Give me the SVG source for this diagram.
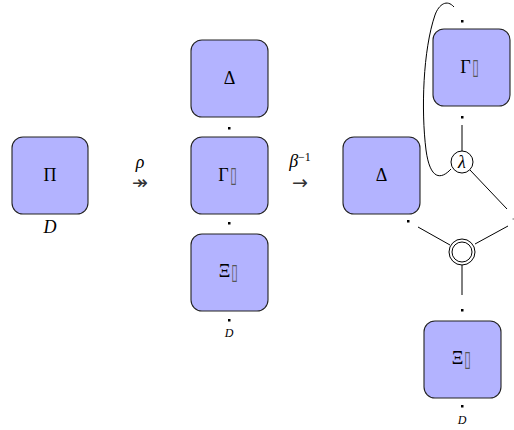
<svg xmlns="http://www.w3.org/2000/svg" width="514" height="430" viewBox="0 0 514 430">
<style>
.box{fill:#b3b3ff;stroke:#222;stroke-width:1.1}
.t{font-family:"Liberation Serif","DejaVu Serif",serif;font-size:18px;font-weight:normal;text-anchor:middle;fill:#000}
.it{font-style:italic}
.sm{font-size:12px}
.tofu{font-family:"DejaVu Sans",sans-serif;font-size:20px;text-anchor:middle;fill:#555}
.dot{fill:#000}
.ln{fill:none;stroke:#000;stroke-width:1}
.ar{font-family:"DejaVu Sans",sans-serif;font-size:19px;text-anchor:middle;fill:#333}
</style>
<rect width="514" height="430" fill="#fff"/>
<g id="connectors">
<line class="ln" x1="462" y1="125" x2="462" y2="151"/>
<line class="ln" x1="470" y1="170" x2="507" y2="209"/>
<line class="ln" x1="418" y1="227" x2="450" y2="245"/>
<line class="ln" x1="475" y1="244" x2="508" y2="226"/>
<line class="ln" x1="462" y1="265" x2="462" y2="295"/>
<path class="ln" d="M451,169 C441,180 430,180 426,150 C421,110 423,50 435,15 C439,4 447,-1 454,7"/>
</g>
<g id="n-pi">
<rect class="box" x="12" y="137" width="76" height="77" rx="11"/>
<text class="t" x="50" y="181">Π</text>
<text class="t it" x="50" y="233">D</text>
</g>
<g id="arrow-rho">
<text class="t it" x="140" y="168">ρ</text>
<text class="ar" x="140" y="189">↠</text>
</g>
<g id="n-delta1">
<rect class="box" x="191" y="40" width="77" height="77" rx="11"/>
<text class="t" x="229.5" y="84">Δ</text>
</g>
<g id="n-gamma1">
<rect class="box" x="191" y="137" width="77" height="77" rx="11"/>
<text class="t" x="223.5" y="181">Γ</text>
<text class="tofu" transform="translate(233.5,182) scale(0.6,1.1)">▯</text>
</g>
<g id="n-xi1">
<rect class="box" x="191" y="234" width="77" height="77" rx="11"/>
<text class="t" x="224.5" y="277">Ξ</text>
<text class="tofu" transform="translate(234.5,279) scale(0.6,1.1)">▯</text>
<text class="t it sm" x="229" y="337">D</text>
</g>
<g id="arrow-beta">
<text class="t" x="300" y="167"><tspan class="it">β</tspan><tspan font-size="12" dy="-6">−1</tspan></text>
<text class="ar" x="300" y="189">→</text>
</g>
<g id="n-delta2">
<rect class="box" x="343" y="137" width="77" height="77" rx="11"/>
<text class="t" x="381.5" y="181">Δ</text>
</g>
<g id="n-gamma2">
<rect class="box" x="433" y="29" width="77" height="77" rx="11"/>
<text class="t" x="465.5" y="73">Γ</text>
<text class="tofu" transform="translate(475.5,74) scale(0.6,1.1)">▯</text>
</g>
<g id="n-lambda">
<circle cx="462" cy="162" r="11" fill="#fff" stroke="#000" stroke-width="1"/>
<text class="t it" x="462" y="168" font-size="16">λ</text>
</g>
<g id="n-merge">
<circle cx="462" cy="252" r="13" fill="#fff" stroke="#000" stroke-width="1"/>
<circle cx="462" cy="252" r="10" fill="none" stroke="#000" stroke-width="1"/>
</g>
<g id="n-xi2">
<rect class="box" x="424" y="321" width="77" height="77" rx="11"/>
<text class="t" x="457.5" y="364">Ξ</text>
<text class="tofu" transform="translate(467.5,366) scale(0.6,1.1)">▯</text>
<text class="t it sm" x="462" y="424">D</text>
</g>
<g id="ports">
<rect class="dot" x="228" y="127" width="2.5" height="2.5"/>
<rect class="dot" x="228" y="222" width="2.5" height="2.5"/>
<rect class="dot" x="228" y="319" width="2.5" height="2.5"/>
<rect class="dot" x="407" y="220" width="2.5" height="2.5"/>
<rect class="dot" x="461" y="20" width="2.5" height="2.5"/>
<rect class="dot" x="461" y="116" width="2.5" height="2.5"/>
<rect class="dot" x="461" y="309" width="2.5" height="2.5"/>
<rect class="dot" x="461" y="405" width="2.5" height="2.5"/>
<rect class="dot" x="512.5" y="218" width="2" height="2" fill-opacity="0.3"/>
</g>
</svg>
